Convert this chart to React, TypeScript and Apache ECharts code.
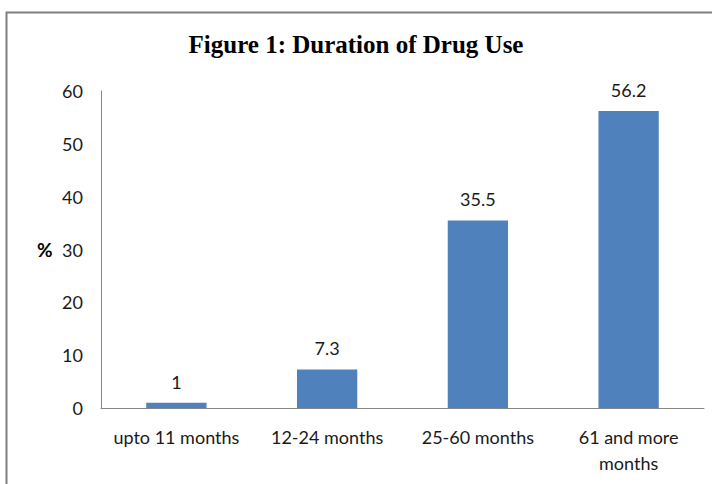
import React, { useEffect, useRef } from "react";
import * as echarts from "echarts";

const categories = ["upto 11 months", "12-24 months", "25-60 months", "61 and more months"];
const values = [1, 7.3, 35.5, 56.2];
const yTicks = { min: 0, max: 60, interval: 10 };
const titleText = "Figure 1: Duration of Drug Use";
const yName = "%";

const FONT = "Lato, 'Open Sans', sans-serif";

export default function App() {
  const ref = useRef<HTMLDivElement>(null);
  useEffect(() => {
    if (!ref.current) return;
    const chart = echarts.init(ref.current, null, { renderer: "svg" });
    chart.setOption({
      animation: false,
      backgroundColor: "#ffffff",
      title: {
        text: titleText,
        left: "center",
        top: 27,
        textStyle: {
          fontFamily: "'Liberation Serif', 'Times New Roman', serif",
          fontWeight: "bold",
          fontSize: 25,
          color: "#000000",
        },
      },
      graphic: [
        {
          type: "polyline",
          shape: { points: [[6.5, 484], [6.5, 12.5], [712, 12.5]] },
          style: { stroke: "#7f7f7f", lineWidth: 2, fill: "none" },
        },
        {
          type: "text",
          left: 37,
          top: 240,
          style: {
            text: yName,
            fontFamily: FONT,
            fontWeight: "bold",
            fontSize: 19,
            fill: "#000000",
          },
        },
      ],
      grid: { left: 101, right: 8, top: 91, bottom: 76 },
      xAxis: {
        type: "category",
        data: categories,
        axisLine: { lineStyle: { color: "#868686", width: 1 } },
        axisTick: { show: false },
        axisLabel: {
          fontFamily: FONT,
          fontSize: 18,
          color: "#1a1a1a",
          margin: 16,
          lineHeight: 26,
          interval: 0,
          formatter: (v: string) => {
            if (v.length > 15) {
              const i = v.lastIndexOf(" ");
              return v.slice(0, i) + "\n" + v.slice(i + 1);
            }
            return v;
          },
        },
      },
      yAxis: {
        type: "value",
        min: yTicks.min,
        max: yTicks.max,
        interval: yTicks.interval,
        splitLine: { show: false },
        axisLine: { show: true, lineStyle: { color: "#868686", width: 1 } },
        axisTick: { show: false },
        axisLabel: {
          fontFamily: FONT,
          fontSize: 18,
          color: "#1a1a1a",
          margin: 18,
        },
      },
      series: [
        {
          type: "bar",
          data: values,
          barWidth: "40%",
          itemStyle: { color: "#4f81bd" },
          label: {
            show: true,
            position: "top",
            distance: 12,
            fontFamily: FONT,
            fontSize: 18,
            color: "#1a1a1a",
          },
        },
      ],
    });
    return () => chart.dispose();
  }, []);
  return (
    <div
      ref={ref}
      style={{ position: "fixed", left: 0, top: 0, width: 712, height: 484 }}
    />
  );
}
